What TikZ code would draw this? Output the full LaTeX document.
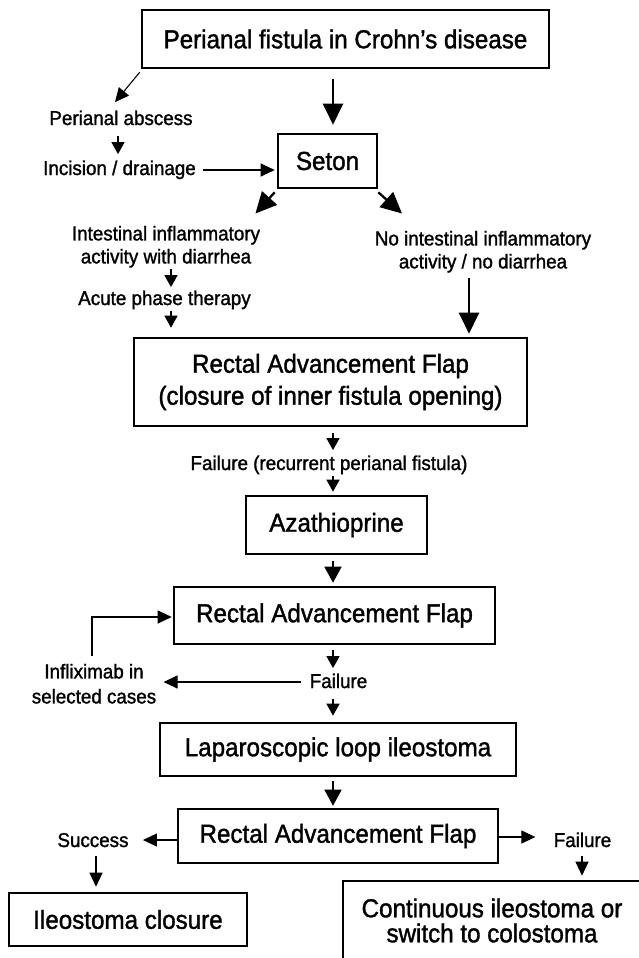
\documentclass[tikz,border=0pt]{standalone}
\usepackage{fontspec}
\setmainfont{Liberation Sans}
\newfontfamily\bigfam[FakeStretch=0.93,FakeBold=1.4]{Liberation Sans}
\newfontfamily\smfam[FakeStretch=0.94,FakeBold=1.4]{Liberation Sans}
\usetikzlibrary{arrows.meta}
\newcommand\bigtxt{\bigfam\fontsize{13pt}{16pt}\selectfont}
\newcommand\smtxt{\smfam\fontsize{10pt}{11.5pt}\selectfont}
\begin{document}
\begin{tikzpicture}[x=0.5pt,y=-0.5pt,
  box/.style={draw, line width=1.3pt, inner sep=0pt, align=center, font=\bigtxt},
  lbl/.style={inner sep=0pt, align=center, font=\smtxt},
  sarr/.style={line width=0.65pt, -{Triangle[length=6pt,width=6.5pt]}},
  marr/.style={line width=0.55pt, -{Triangle[length=7pt,width=6.5pt]}},
  tarr/.style={line width=0.8pt, -{Triangle[length=8pt,width=8.5pt]}},
  barr/.style={line width=1.15pt, -{Triangle[length=10.5pt,width=10pt]}}]
\useasboundingbox (0,0) rectangle (638,958);
% boxes
\node[box, minimum width=203.5pt, minimum height=29pt] (top) at (345.5,39) {Perianal fistula in Crohn’s disease};
\node[box, minimum width=49.5pt, minimum height=27pt] (seton) at (327.5,161) {Seton};
\node[box, minimum width=196.5pt, minimum height=44pt] (raf1) at (330.5,382) {Rectal Advancement Flap\\(closure of inner fistula opening)};
\node[box, minimum width=90.5pt, minimum height=29pt] (aza) at (336.5,525) {Azathioprine};
\node[box, minimum width=160.5pt, minimum height=28.5pt] (raf2) at (334.5,615.5) {Rectal Advancement Flap};
\node[box, minimum width=178pt, minimum height=26.5pt] (lap) at (338,749.5) {Laparoscopic loop ileostoma};
\node[box, minimum width=160pt, minimum height=27pt] (raf3) at (338,836) {Rectal Advancement Flap};
\node[box, minimum width=119pt, minimum height=26.5pt] (clo) at (128,919.5) {Ileostoma closure};
\node[box, minimum width=149pt, minimum height=39.5pt, font=\bigfam\fontsize{13pt}{12.5pt}\selectfont] (cont) at (492,920.5) {Continuous ileostoma or\\switch to colostoma};
% labels
\node[lbl, anchor=base] (abs) at (121,125) {Perianal abscess};
\node[lbl, anchor=base] (inc) at (119.5,175) {Incision / drainage};
\node[lbl, anchor=north] (int) at (166,225.5) {Intestinal inflammatory\\activity with diarrhea};
\node[lbl, anchor=base] (acu) at (164.5,305) {Acute phase therapy};
\node[lbl, anchor=north] (noi) at (483,230.5) {No intestinal inflammatory\\activity / no diarrhea};
\node[lbl, anchor=base] (fa1) at (329,470) {Failure (recurrent perianal fistula)};
\node[lbl, anchor=base] (fa2) at (338.5,688) {Failure};
\node[lbl, anchor=north, font=\smfam\fontsize{10pt}{12.5pt}\selectfont] (inf) at (94,663.5) {Infliximab in\\selected cases};
\node[lbl, anchor=base] (suc) at (93,847) {Success};
\node[lbl, anchor=base] (fa3) at (582.5,847) {Failure};
% connectors
\draw[marr] ([shift={(-1,3)}]top.south west) -- ([shift={(-6,-8)}]abs.north);
\draw[sarr, shorten <=5pt, shorten >=3pt] (118,0 |- abs.south) -- (118,0 |- inc.north);
\draw[marr, shorten <=3.5pt, shorten >=1pt] (inc.east |- 0,170) -- (seton.west |- 0,170);
\draw[barr, shorten <=5pt, shorten >=4pt] (333,0 |- top.south) -- (333,0 |- seton.north);
\draw[barr] ([shift={(-2,3)}]seton.south west) -- ([shift={(-5,-12)}]int.north east);
\draw[barr] ([shift={(0,3)}]seton.south east) -- ([shift={(27.5,-17)}]noi.north west);
\draw[sarr, shorten <=0.5pt, shorten >=1.5pt] (171,0 |- int.south) -- (171,0 |- acu.north);
\draw[sarr, shorten <=0.5pt, shorten >=4.5pt] (171,0 |- acu.south) -- (171,0 |- raf1.north);
\draw[barr, shorten <=2.5pt, shorten >=1.5pt] (469,0 |- noi.south) -- (469,0 |- raf1.north);
\draw[sarr, shorten <=3pt, shorten >=2.5pt] (333,0 |- raf1.south) -- (333,0 |- fa1.north);
\draw[sarr, shorten <=0.5pt, shorten >=1.5pt] (333,0 |- fa1.south) -- (333,0 |- aza.north);
\draw[tarr, shorten <=3pt, shorten >=1.5pt] (333,0 |- aza.south) -- (333,0 |- raf2.north);
\draw[sarr, shorten <=2.5pt, shorten >=2.5pt] (333,0 |- raf2.south) -- (333,0 |- fa2.north);
\draw[marr, shorten <=4pt, shorten >=3.5pt] (fa2.west |- 0,682) -- (inf.east |- 0,682);
\draw[marr, shorten <=4pt, shorten >=0.5pt] (92,0 |- inf.north) |- (raf2.west |- 0,617);
\draw[sarr, shorten <=5pt, shorten >=3pt] (333,0 |- fa2.south) -- (333,0 |- lap.north);
\draw[tarr, shorten <=2pt, shorten >=1pt] (333,0 |- lap.south) -- (333,0 |- raf3.north);
\draw[marr, shorten >=7pt] (raf3.west |- 0,840) -- (suc.east |- 0,840);
\draw[marr, shorten <=4pt, shorten >=2.5pt] (96,0 |- suc.south) -- (96,0 |- clo.north);
\draw[marr, shorten >=9pt] (raf3.east |- 0,837) -- (fa3.west |- 0,837);
\draw[marr, shorten <=4pt, shorten >=2pt] (582,0 |- fa3.south) -- (582,0 |- cont.north);
\end{tikzpicture}
\end{document}
